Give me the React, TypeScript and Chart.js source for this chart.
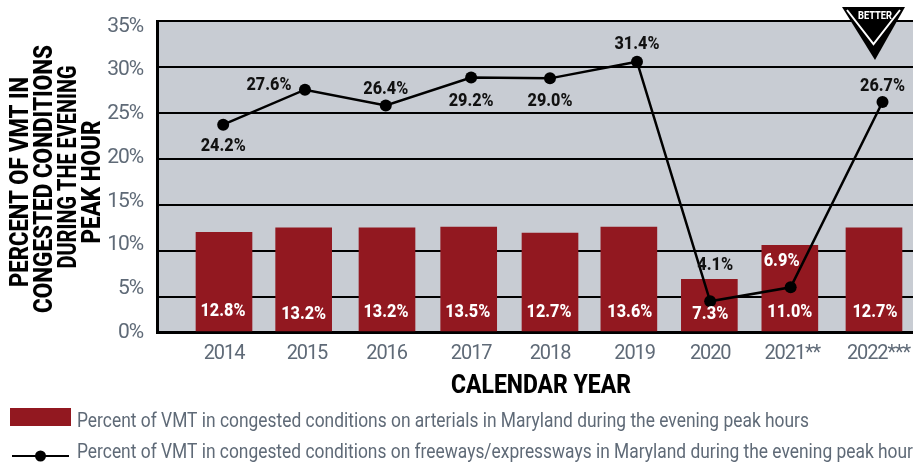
import React, { useEffect, useRef } from "react";
import { Chart, registerables } from "chart.js";

Chart.register(...registerables);

// Positions along the year axis, as drawn in the picture
const tickYears = [2014, 2015.02, 2016, 2017.04, 2018.01, 2019.05, 2019.98, 2020.99, 2022.05];
const tickLabels = ["2014", "2015", "2016", "2017", "2018", "2019", "2020", "2021**", "2022***"];
const barYears = [2014, 2014.98, 2016.005, 2017.01, 2018.01, 2018.98, 2019.97, 2020.96, 2021.995];
const lineYears = [2013.99, 2014.996, 2015.99, 2017.04, 2018.01, 2019.08, 2019.98, 2020.97, 2022.1];

// Heights as drawn against the percent axis
const arterialValues = [11.3, 11.8, 11.8, 11.9, 11.2, 11.9, 5.9, 9.8, 11.8];
const freewayValues = [23.6, 27.6, 25.8, 29.0, 28.9, 30.8, 3.4, 5.0, 26.2];

// Printed labels
const arterialLabels = ["12.8%", "13.2%", "13.2%", "13.5%", "12.7%", "13.6%", "7.3%", "11.0%", "12.7%"];
const freewayLabels = ["24.2%", "27.6%", "26.4%", "29.2%", "29.0%", "31.4%", "4.1%", "6.9%", "26.7%"];

// Label offsets from their marks
const freewayLabelDx = [0, -36, 0, 0, 0, 0, 5, -9, 0];
const freewayLabelDy = [22, -4, -16, 24, 23, -17, -36, -26, -16];
const arterialLabelDx = [-1, 0, -1, -1, -1, 1, 1, 0, 1];
const arterialLabelY = [311, 314, 312, 312, 312, 312, 314, 312, 312];

const yTicks = [0, 5, 10, 15, 20, 25, 30, 35];
const gridTicks = [5, 10, 15, 20, 25, 30, 35];

const arterialName = "Percent of VMT in congested conditions on arterials in Maryland during the evening peak hours";
const freewayName = "Percent of VMT in congested conditions on freeways/expressways in Maryland during the evening peak hour";
const xTitle = "CALENDAR YEAR";
const yTitleLines = ["PERCENT OF VMT IN", "CONGESTED CONDITIONS", "DURING THE EVENING", "PEAK HOUR"];
const yTitleBaseX = [28, 52, 76, 100];
const yTitleCenter = [182, 179, 167, 182];
const yTitleWidth = [210, 268, 203, 123];

const RED = "#921820";
const GREY = "#5f6a77";
const PLOT = "#c8ccd3";
const FONT = "Roboto, sans-serif";

// Stops an axis from reserving room for labels that overhang its ends
const noOverhang = (axis: any) => {
  axis._calculatePadding = function () {
    this.paddingLeft = 0;
    this.paddingRight = 0;
    this.paddingTop = 0;
    this.paddingBottom = 0;
  };
  axis.getPadding = () => ({ left: 0, right: 0, top: 0, bottom: 0 });
};

const decorations = {
  id: "decorations",
  afterLayout(chart: any) {
    // the plot runs off the right edge of the picture
    const right = chart.width;
    const a = chart.chartArea;
    const { x, yGrid } = chart.scales;
    a.right = right;
    a.width = right - a.left;
    x.right = right;
    x.width = right - x.left;
    x.configure();
    yGrid.left = right;
    yGrid.right = right;
  },
  beforeDraw(chart: any) {
    const { ctx, chartArea: a } = chart;
    ctx.save();
    ctx.fillStyle = PLOT;
    ctx.fillRect(a.left, a.top, a.right - a.left, a.bottom - a.top);
    ctx.restore();
    ctx.letterSpacing = "-1.1px";
  },
  afterDraw(chart: any) {
    const { ctx } = chart;
    ctx.letterSpacing = "0px";
    ctx.save();
    ctx.textAlign = "center";
    ctx.textBaseline = "middle";

    // data labels
    const barMeta = chart.getDatasetMeta(0);
    const lineMeta = chart.getDatasetMeta(1);
    ctx.font = `800 19px ${FONT}`;
    ctx.fillStyle = "#fff";
    arterialLabels.forEach((t, i) => {
      ctx.fillText(t, barMeta.data[i].x + arterialLabelDx[i], arterialLabelY[i], t.length > 4 ? 45 : 36);
    });
    freewayLabels.forEach((t, i) => {
      const p = lineMeta.data[i];
      ctx.fillStyle = i === 7 ? "#fff" : "#111";
      ctx.fillText(t, p.x + freewayLabelDx[i], p.y + freewayLabelDy[i], t.length > 4 ? 45 : 36);
    });

    // "better" badge
    ctx.fillStyle = "#000";
    ctx.beginPath();
    ctx.moveTo(842, 7);
    ctx.lineTo(905, 7);
    ctx.lineTo(875, 60);
    ctx.closePath();
    ctx.fill();
    ctx.strokeStyle = "#fff";
    ctx.lineWidth = 2;
    ctx.beginPath();
    ctx.moveTo(847, 10);
    ctx.lineTo(873.5, 44);
    ctx.lineTo(900, 10);
    ctx.stroke();
    ctx.fillStyle = "#fff";
    ctx.font = `800 11px ${FONT}`;
    ctx.fillText("BETTER", 875, 16, 34);

    // axis titles
    ctx.fillStyle = "#000";
    ctx.textBaseline = "alphabetic";
    ctx.font = `800 25px ${FONT}`;
    ctx.fillText(xTitle, 541, 393, 180);
    yTitleLines.forEach((t, i) => {
      ctx.save();
      ctx.translate(yTitleBaseX[i], yTitleCenter[i]);
      ctx.rotate(-Math.PI / 2);
      ctx.fillText(t, 0, 0, yTitleWidth[i]);
      ctx.restore();
    });

    // legend
    ctx.textAlign = "left";
    ctx.fillStyle = RED;
    ctx.fillRect(10, 408, 61, 18);
    ctx.strokeStyle = "#000";
    ctx.lineWidth = 2;
    ctx.beginPath();
    ctx.moveTo(12, 456);
    ctx.lineTo(69, 456);
    ctx.stroke();
    ctx.fillStyle = "#000";
    ctx.beginPath();
    ctx.arc(40.5, 456, 5.5, 0, Math.PI * 2);
    ctx.fill();
    ctx.fillStyle = GREY;
    ctx.font = `400 21px ${FONT}`;
    ctx.fillText(arterialName, 77, 427, 732);
    ctx.fillText(freewayName, 77, 458, 836);
    ctx.restore();
  },
};

export default function App() {
  const ref = useRef<HTMLCanvasElement>(null);
  useEffect(() => {
    const chart = new Chart(ref.current!, {
      type: "bar",
      data: {
        datasets: [
          {
            type: "bar",
            label: arterialName,
            data: barYears.map((x, i) => ({ x, y: arterialValues[i] })),
            backgroundColor: RED,
            barThickness: 56,
            order: 2,
          },
          {
            type: "line",
            label: freewayName,
            data: lineYears.map((x, i) => ({ x, y: freewayValues[i] })),
            borderColor: "#000",
            borderWidth: 2.5,
            backgroundColor: "#000",
            pointRadius: 6,
            pointBackgroundColor: "#000",
            pointBorderWidth: 0,
            tension: 0,
            order: 1,
          },
        ] as any,
      },
      plugins: [decorations],
      options: {
        animation: false,
        responsive: false,
        layout: { padding: { top: 21, left: 0, right: 0, bottom: 0 } },
        plugins: { legend: { display: false }, tooltip: { enabled: false } },
        scales: {
          x: {
            type: "linear",
            offset: false,
            min: 2013.176,
            max: 2022.475,
            beforeUpdate: noOverhang,
            afterBuildTicks: (axis: any) => {
              axis.ticks = tickYears.map((value) => ({ value }));
            },
            afterFit: (axis: any) => {
              axis.height = 134;
            },
            grid: { display: false, drawTicks: false },
            border: { display: true, color: "#000", width: 3 },
            ticks: {
              autoSkip: false,
              maxRotation: 0,
              padding: 10,
              color: GREY,
              font: { family: FONT, size: 20, weight: "400" },
              callback: (_v: any, i: number) => tickLabels[i],
            },
          },
          y: {
            type: "linear",
            position: "left",
            min: -0.11,
            max: 35.46,
            beforeUpdate: noOverhang,
            afterBuildTicks: (axis: any) => {
              axis.ticks = yTicks.map((value) => ({ value }));
            },
            afterFit: (axis: any) => {
              axis.width = 157;
            },
            grid: { display: false, drawTicks: false },
            border: { display: true, color: "#000", width: 3 },
            ticks: {
              padding: 14,
              labelOffset: 1.5,
              color: GREY,
              font: { family: FONT, size: 21, weight: "400" },
              callback: (v: any) => `${v}%`,
            },
          },
          yGrid: {
            type: "linear",
            position: "right",
            min: 1.196,
            max: 35,
            beforeUpdate: noOverhang,
            afterBuildTicks: (axis: any) => {
              axis.ticks = gridTicks.map((value) => ({ value }));
            },
            afterFit: (axis: any) => {
              axis.width = 0;
            },
            border: { display: false },
            grid: { display: true, color: "#000", lineWidth: 2, drawTicks: false },
            ticks: { display: false },
          },
        },
      } as any,
    });
    return () => chart.destroy();
  }, []);
  return (
    <div style={{ position: "fixed", left: 0, top: 0, width: 913, height: 466, background: "#fff", overflow: "hidden" }}>
      <canvas ref={ref} width={913} height={466} style={{ display: "block" }} />
    </div>
  );
}
